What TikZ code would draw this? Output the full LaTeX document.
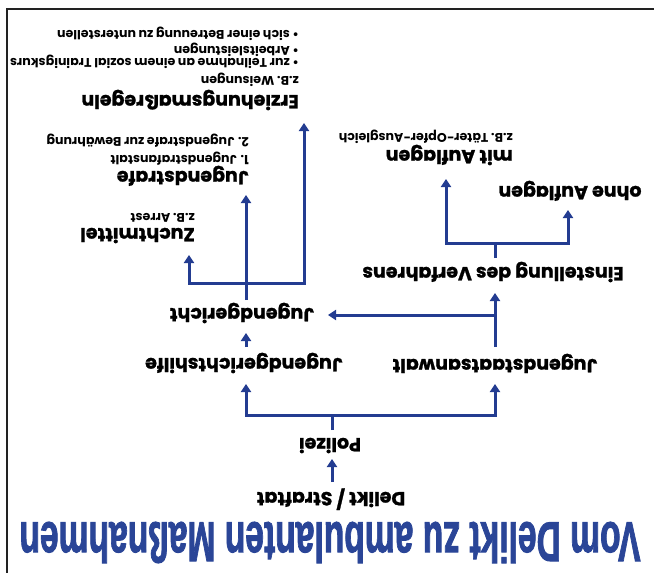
\documentclass[tikz,border=0pt]{standalone}
\usepackage{fontspec}
\setmainfont{Poppins}
\newfontfamily\headfont{Poppins}[BoldFeatures={FakeBold=1.2}]
\newfontfamily\titlefont{Liberation Sans}[BoldFeatures={FakeBold=2}]
\usetikzlibrary{arrows.meta}
\definecolor{dblue}{HTML}{233C91}
\definecolor{tblue}{HTML}{2A4597}
\definecolor{framec}{HTML}{222222}
\tikzset{
  head/.style={rotate=180, inner sep=0, font=\headfont\fontsize{19}{19}\selectfont\bfseries, anchor=base},
  headl/.style={head, anchor=base west},
  sub/.style={rotate=180, inner sep=0, font=\fontsize{12.6}{12.6}\selectfont\bfseries, anchor=base west},
  ln/.style={draw=dblue, line width=3pt},
  arr/.style={ln, -{Triangle[width=10pt,length=8pt]}},
  arrr/.style={ln, {Triangle[width=10pt,length=8pt]}-{Triangle[width=10pt,length=8pt]}},
}
\begin{document}
\begin{tikzpicture}[x=1pt,y=-1pt]
\useasboundingbox (0,0) rectangle (654,573);
% frame
\draw[framec, line width=2pt] (654,9) -- (7,9) -- (7,573);
% title
\node[rotate=180, text=tblue, inner sep=0] (title) at (330,542.5)
  {\scalebox{0.6}[1]{\titlefont\bfseries\fontsize{56}{56}\selectfont Vom Delikt zu ambulanten Maßnahmen}};
% headings
\node[head] (delikt) at (331,492) {Delikt / Straftat};
\node[head] (polizei) at (330,438) {Polizei};
\node[head] (jgh) at (244,358) {Jugendgerichtshilfe};
\node[head] (jsa) at (495,359) {Jugendstaatsanwalt};
\node[head] (jg) at (242,308) {Jugendgericht};
\node[head] (einst) at (493,267) {Einstellung des Verfahrens};
\node[head] (ohne) at (570,186) {ohne Auflagen};
\node[headl] (mit) at (513,150) {mit Auflagen};
\node[sub] (mitz) at (513,133) {z.B. Täter-Opfer-Ausgleich};
\node[headl] (zucht) at (195,228) {Zuchtmittel};
\node[sub] (zuchtz) at (195,213) {z.B. Arrest};
\node[headl] (jstrafe) at (249,171) {Jugendstrafe};
\node[sub] (js1) at (249,155) {1. Jugendstrafanstalt};
\node[sub] (js2) at (249,137) {2. Jugendstrafe zur Bewährung};
\node[headl] (erz) at (299,95) {Erziehungsmaßregeln};
\node[sub] (erz1) at (299,76) {z.B. Weisungen};
\node[sub] (erz2) at (299,58) {• zur Teilnahme an einem sozial Trainigskurs};
\node[sub] (erz3) at (299,46) {• Arbeitsleistungen};
\node[sub] (erz4) at (299,30) {• sich einer Betreuung zu unterstellen};
% connector coordinates
\coordinate (d-out) at (332,482);
\coordinate (p-in) at (332,459);
\coordinate (p-out) at (332,430);
\coordinate (p-mid) at (332,415);
\coordinate (b1l) at (246,415);
\coordinate (b1r) at (495,415);
\coordinate (jgh-in) at (246,384);
\coordinate (jsa-in) at (495,384);
\coordinate (jgh-out) at (246,347);
\coordinate (jg-in) at (246,333);
\coordinate (jsa-out) at (495,347);
\coordinate (jsa-br) at (495,315);
\coordinate (jg-in2) at (328,315);
\coordinate (einst-in) at (495,293);
\coordinate (einst-out) at (495,258);
\coordinate (b2m) at (495,243);
\coordinate (b2l) at (446,243);
\coordinate (b2r) at (568,243);
\coordinate (mit-in) at (446,179);
\coordinate (ohne-in) at (568,210);
\coordinate (jg-out) at (246,300);
\coordinate (b3m) at (246,283);
\coordinate (b3l) at (189,283);
\coordinate (b3r) at (304,283);
\coordinate (zucht-in) at (189,255);
\coordinate (jstrafe-in) at (246,195);
\coordinate (erz-in) at (304,123);
% connectors
\draw[arr] (d-out) -- (p-in);
\draw[ln] (p-out) -- (p-mid);
\draw[arrr] (jgh-in) -- (b1l) -- (b1r) -- (jsa-in);
\draw[arr] (jgh-out) -- (jg-in);
\draw[arr] (jsa-out) -- (einst-in);
\draw[arr] (jsa-br) -- (jg-in2);
\draw[ln] (einst-out) -- (b2m);
\draw[arrr] (mit-in) -- (b2l) -- (b2r) -- (ohne-in);
\draw[arr] (jg-out) -- (jstrafe-in);
\draw[arrr] (zucht-in) -- (b3l) -- (b3r) -- (erz-in);
\end{tikzpicture}
\end{document}
